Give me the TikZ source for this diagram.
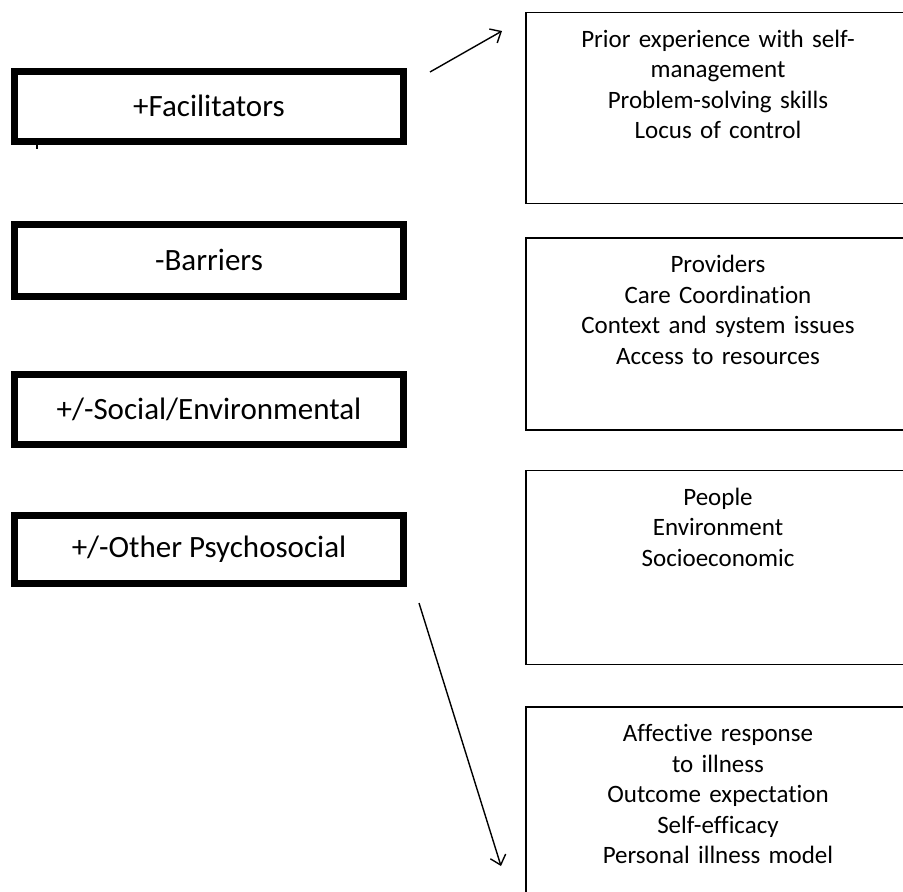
\documentclass[tikz,border=0pt]{standalone}
\usepackage{fontspec}
\setmainfont{Carlito}[Ligatures=NoCommon]
\usetikzlibrary{arrows.meta,calc}
\begin{document}
\begin{tikzpicture}[x=1pt,y=-1pt,
  lbox/.style={draw,line width=7pt,minimum width=389pt,minimum height=70pt,inner sep=0pt,font=\fontsize{31}{36}\selectfont},
  rbox/.style={draw,line width=1.8pt,minimum width=384pt,inner sep=0pt},
  rtext/.style={align=center,text width=370pt,inner sep=0pt,anchor=base,font=\fontsize{25}{30.5}\selectfont},
  conn/.style={line width=1.4pt,-{Straight Barb[length=9pt,width=16pt,line width=1.4pt]}}]
\useasboundingbox (0,0) rectangle (903,892);
\clip (0,0) rectangle (903,892);
% left category boxes
\node[lbox] (fac) at (209,106) {+Facilitators};
\node[lbox,minimum height=72pt] (bar) at (209,260) {-Barriers};
\node[lbox] (soc) at (209,409.5) {+/-Social/Environmental};
\node[lbox,minimum height=68pt] (oth) at (209,549.5) {+/-Other Psychosocial};
\draw[line width=1.2pt] ($(fac.south west)+(26,0)$) -- ++(0,4);
% right detail boxes
\node[rbox,minimum height=191pt] (r1) at (718,108) {};
\node[rbox,minimum height=192pt] (r2) at (718,334) {};
\node[rbox,minimum height=194pt] (r3) at (718,567.5) {};
\node[rbox,minimum height=200pt] (r4) at (718,807) {};
\node[rtext] (t1) at ($(r1.north)+(0,35.5)$) {Prior experience with self-\\management\\Problem-solving skills\\Locus of control};
\node[rtext] (t2) at ($(r2.north)+(0,35.5)$) {Providers\\Care Coordination\\Context and system issues\\Access to resources};
\node[rtext] (t3) at ($(r3.north)+(0,35.5)$) {People\\Environment\\Socioeconomic};
\node[rtext] (t4) at ($(r4.north)+(0,35.5)$) {Affective response\\to illness\\Outcome expectation\\Self-efficacy\\Personal illness model};
% arrows
\coordinate (a1s) at (430,72);
\coordinate (a1e) at (502,31);
\coordinate (a2s) at (419,603);
\coordinate (a2e) at (501,866);
\draw[conn] (a1s) -- (a1e);
\draw[conn] (a2s) -- (a2e);
\end{tikzpicture}
\end{document}
